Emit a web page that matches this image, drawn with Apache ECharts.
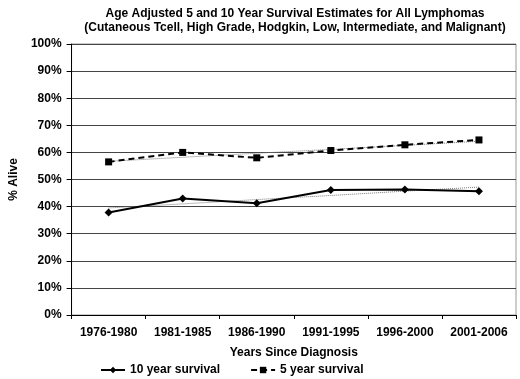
<!DOCTYPE html>
<html>
<head>
<meta charset="utf-8">
<script src="https://cdn.jsdelivr.net/npm/echarts@6/dist/echarts.min.js"></script>
<style>
  html,body{margin:0;padding:0;background:#fff;}
  #main{width:520px;height:379px;}
</style>
</head>
<body>
<div id="main"></div>
<script>
// periods on the x axis
var periods = ['1976-1980','1981-1985','1986-1990','1991-1995','1996-2000','2001-2006'];
// survival estimates (%)
var surv10 = [37.8, 43.0, 41.2, 46.1, 46.3, 45.7];
var surv5 = [56.5, 60.0, 58.0, 60.7, 62.8, 64.6];
// dotted trend lines drawn behind each series
var trend10 = [39.5, 41.0, 42.6, 44.1, 45.7, 47.2];
var trend5 = [56.7, 58.2, 59.7, 61.1, 62.6, 64.1];
var yTicks = [0, 10, 20, 30, 40, 50, 60, 70, 80, 90, 100];

var font = "'Liberation Sans Narrow','Arial Narrow','Liberation Sans',sans-serif";
var chart = echarts.init(document.getElementById('main'));

var option = {
  animation: false,
  title: {
    text: 'Age Adjusted 5 and 10 Year Survival Estimates for All Lymphomas\n(Cutaneous Tcell, High Grade, Hodgkin, Low, Intermediate, and Malignant)',
    left: 290, top: 2, textAlign: 'center',
    textStyle: {fontFamily: font, fontWeight: 'bold', fontSize: 12, color: '#000', lineHeight: 14}
  },
  legend: {
    data: ['10 year survival', '5 year survival'],
    bottom: -2, left: 95, itemGap: 30, itemWidth: 24, itemHeight: 8,
    textStyle: {fontFamily: font, fontWeight: 'bold', fontSize: 12, color: '#000'}
  },
  grid: {left: 62, right: 4, top: 44, bottom: 64, show: true, borderColor: '#999', borderWidth: 1},
  xAxis: {
    type: 'category', data: periods, boundaryGap: true,
    name: 'Years Since Diagnosis', nameLocation: 'middle', nameGap: 32,
    nameTextStyle: {fontFamily: font, fontWeight: 'bold', fontSize: 12, color: '#000'},
    axisLine: {lineStyle: {color: '#000', width: 1}},
    axisTick: {show: true, length: 4, lineStyle: {color: '#000'}},
    axisLabel: {interval: 0, fontFamily: font, fontWeight: 'bold', fontSize: 12, color: '#000', margin: 12}
  },
  yAxis: {
    type: 'value', min: 0, max: 100, interval: 10,
    name: '% Alive', nameLocation: 'middle', nameGap: 46,
    nameTextStyle: {fontFamily: font, fontWeight: 'bold', fontSize: 12, color: '#000'},
    axisLine: {show: true, lineStyle: {color: '#000', width: 1}},
    axisTick: {show: true, length: 5, lineStyle: {color: '#000'}},
    axisLabel: {fontFamily: font, fontWeight: 'bold', fontSize: 12, color: '#000', margin: 10,
      formatter: function (v) { return yTicks.indexOf(v) >= 0 ? v + '%' : ''; }},
    splitLine: {show: true, lineStyle: {color: '#444', width: 1}}
  },
  series: [
    {
      name: 'trend10', type: 'line', data: trend10, symbol: 'none', z: 1,
      lineStyle: {color: '#777', width: 1, type: 'dotted'}
    },
    {
      name: 'trend5', type: 'line', data: trend5, symbol: 'none', z: 1,
      lineStyle: {color: '#777', width: 1, type: 'dotted'}
    },
    {
      name: '10 year survival', type: 'line', data: surv10,
      symbol: 'diamond', symbolSize: 8, z: 3,
      itemStyle: {color: '#000'},
      lineStyle: {color: '#000', width: 2}
    },
    {
      name: '5 year survival', type: 'line', data: surv5,
      symbol: 'rect', symbolSize: 7, z: 3,
      itemStyle: {color: '#000'},
      lineStyle: {color: '#000', width: 2, type: [6, 4]}
    }
  ]
};
chart.setOption(option);
</script>
</body>
</html>
